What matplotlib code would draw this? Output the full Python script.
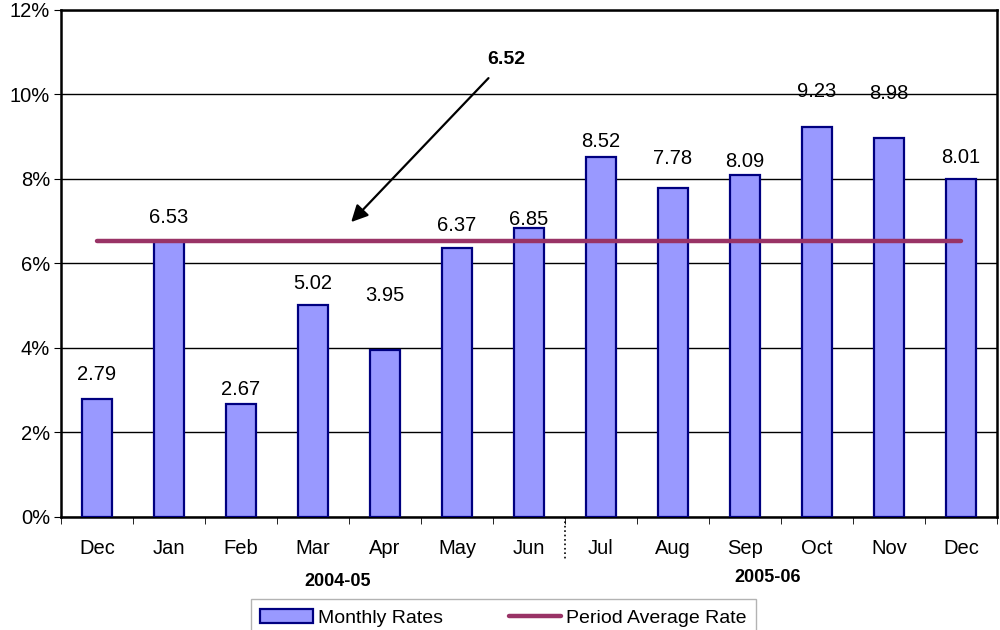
import matplotlib
matplotlib.use("Agg")
import matplotlib.pyplot as plt
from matplotlib.ticker import FuncFormatter

plt.rcParams['font.family'] = ['Liberation Sans', 'DejaVu Sans']

months = ["Dec", "Jan", "Feb", "Mar", "Apr", "May", "Jun",
          "Jul", "Aug", "Sep", "Oct", "Nov", "Dec"]
monthly_rates = [2.79, 6.53, 2.67, 5.02, 3.95, 6.37, 6.85,
                 8.52, 7.78, 8.09, 9.23, 8.98, 8.01]
average_rate = 6.52
years = ["2004-05", "2005-06"]

# how far each value label sits above its bar (pixels), as placed in the original
label_lift = [25, 24, 15, 21, 55, 22, 8, 15, 30, 14, 35, 44, 21]

fig = plt.figure(figsize=(10, 6.3), dpi=100)
ax = fig.add_axes([0.061, 0.1794, 0.936, 0.8048])

x = list(range(len(months)))
bars = ax.bar(x, monthly_rates, width=0.41, color="#9999ff", edgecolor="#000080",
              linewidth=1.6, label="Monthly Rates", zorder=3)
avg, = ax.plot([x[0], x[-1]], [average_rate] * 2, color="#993366", linewidth=3.2,
               solid_capstyle="round", label="Period Average Rate", zorder=4)

for xi, v, lift in zip(x, monthly_rates, label_lift):
    ax.annotate(f"{v:.2f}", xy=(xi, v), xytext=(0, lift),
                textcoords="offset pixels", ha="center", va="center",
                fontsize=14.5, zorder=5)

ax.annotate(f"{average_rate:.2f}", xy=(3.53, 6.98), xytext=(5.68, 10.82),
            ha="center", va="center", fontsize=14, fontweight="bold",
            arrowprops=dict(arrowstyle="-|>", color="black", lw=1.6,
                            mutation_scale=25, shrinkA=7, shrinkB=0))

ax.set_xlim(-0.5, len(months) - 0.5)
ax.set_ylim(0, 12)
ax.set_yticks(range(0, 13, 2))
ax.yaxis.set_major_formatter(FuncFormatter(lambda v, p: f"{v:.0f}%"))
ax.set_xticks(x)
ax.set_xticklabels(months)
ax.set_xticks([i + 0.5 for i in range(-1, len(months))], minor=True)
ax.tick_params(axis="x", which="major", length=0, pad=16, labelsize=14.5)
ax.tick_params(axis="x", which="minor", length=5, color="black")
ax.tick_params(axis="y", length=5, labelsize=14.5, direction="out", pad=3)
ax.grid(axis="y", color="black", linewidth=1.0, zorder=0)
for s in ax.spines.values():
    s.set_linewidth(1.8)

# separator between the two years
ax.plot([6.5, 6.5], [0, -1.02], color="black", linestyle=":", linewidth=1.2,
        clip_on=False)
ax.text(3.34, -1.52, years[0], ha="center", va="center", fontsize=13,
        fontweight="bold")
ax.text(9.31, -1.44, years[1], ha="center", va="center", fontsize=13,
        fontweight="bold")

fig.legend(handles=[bars, avg], loc="lower center",
           bbox_to_anchor=(0.5035, -0.026), ncol=2, frameon=True,
           fancybox=False, edgecolor="#a0a0a0", fontsize=14,
           handlelength=2.7, handleheight=0.75, columnspacing=3.4,
           borderpad=0.5, handletextpad=0.25)

fig.savefig("out.png", dpi=100)
